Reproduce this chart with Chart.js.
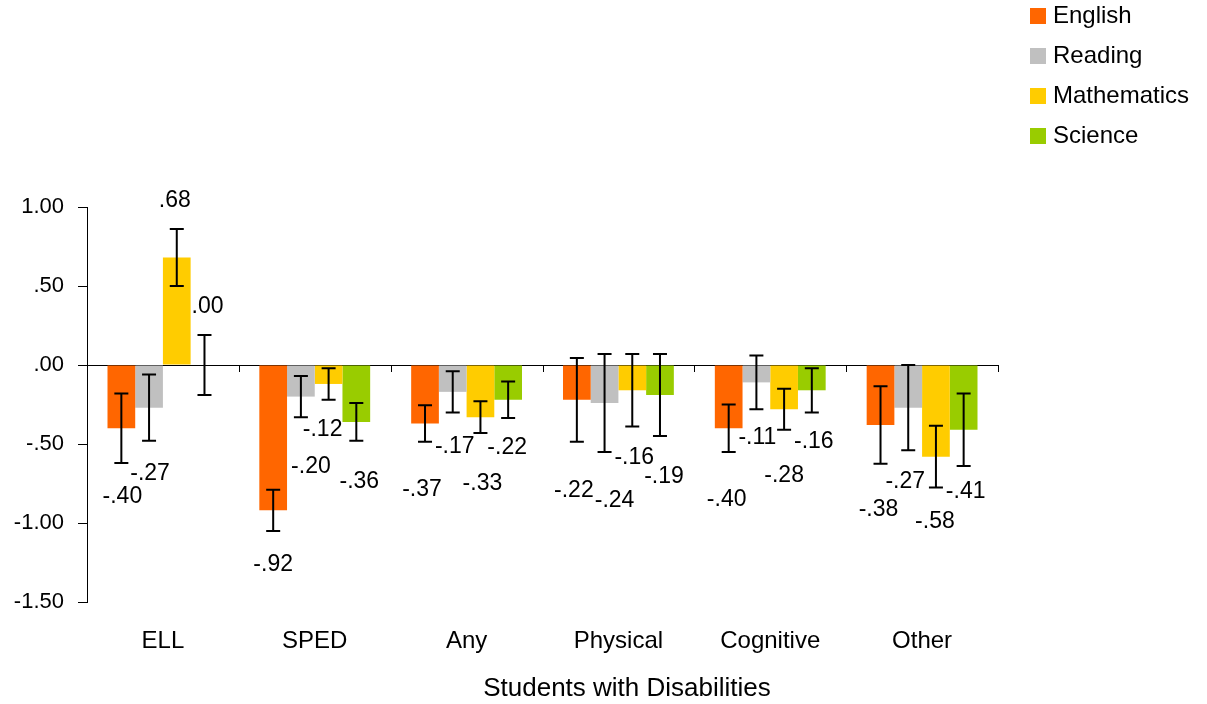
<!DOCTYPE html>
<html>
<head>
<meta charset="utf-8">
<script src="https://cdn.jsdelivr.net/npm/chart.js@4"></script>
<style>
html,body{margin:0;padding:0;background:#fff;}
#wrap{width:1207px;height:704px;position:relative;}
</style>
</head>
<body>
<div id="wrap"><canvas id="c" width="1207" height="704"></canvas></div>
<script>
// ---- data ----
const categories = ['ELL', 'SPED', 'Any', 'Physical', 'Cognitive', 'Other'];
const seriesNames = ['English', 'Reading', 'Mathematics', 'Science'];
const english     = [-0.40, -0.92, -0.37, -0.22, -0.40, -0.38];
const reading     = [-0.27, -0.20, -0.17, -0.24, -0.11, -0.27];
const mathematics = [ 0.68, -0.12, -0.33, -0.16, -0.28, -0.58];
const science     = [ 0.00, -0.36, -0.22, -0.19, -0.16, -0.41];
// error bar half-widths
const englishErr     = [0.22, 0.13, 0.115, 0.265, 0.15, 0.245];
const readingErr     = [0.21, 0.13, 0.13, 0.31, 0.17, 0.27];
const mathematicsErr = [0.18, 0.10, 0.10, 0.23, 0.13, 0.195];
const scienceErr     = [0.19, 0.12, 0.115, 0.26, 0.14, 0.23];
const yTicks = [-1.5, -1.0, -0.5, 0.0, 0.5, 1.0];
const xTitle = 'Students with Disabilities';

// ---- style ----
const colors = ['#FF6600', '#C0C0C0', '#FFCC00', '#99CC00'];
const FONT = 'Arial, "Liberation Sans", sans-serif';
// label nudges (pixels): [dx, dy] from the error bar end
const labelNudge = [
  [[1,34],[0,34],[-3,48],[-3,49],[-2,48],[-2,46]],
  [[1,33],[10,50],[2,34],[10,49],[1,28],[-3,31]],
  [[-2,-28],[-6,30],[2,51],[2,31],[0,46],[-1,34]],
  [[3,-28],[3,41],[-1,30],[4,41],[2,29],[2,26]]
];

function fmt(v){
  let s = Math.abs(v).toFixed(2);
  if (s.startsWith('0')) s = s.slice(1);
  return (v < 0 ? '-' : '') + s;
}

const dataArrays = [english, reading, mathematics, science];
const errArrays = [englishErr, readingErr, mathematicsErr, scienceErr];

const extrasPlugin = {
  id: 'extras',
  afterDatasetsDraw(chart){
    const ctx = chart.ctx;
    const y = chart.scales.y, x = chart.scales.x;
    const ca = chart.chartArea;
    ctx.save();
    // category tick marks on zero line
    const y0 = y.getPixelForValue(0);
    ctx.strokeStyle = '#000'; ctx.lineWidth = 1;
    const n = categories.length;
    for (let i = 1; i <= n; i++){
      const px = (i === n) ? ca.right : (x.getPixelForValue(i-1) + x.getPixelForValue(i)) / 2;
      ctx.beginPath(); ctx.moveTo(Math.round(px)+0.5, y0); ctx.lineTo(Math.round(px)+0.5, y0+7); ctx.stroke();
    }
    // error bars
    ctx.lineWidth = 2;
    chart.data.datasets.forEach((ds, di) => {
      const meta = chart.getDatasetMeta(di);
      meta.data.forEach((bar, i) => {
        const v = dataArrays[di][i], e = errArrays[di][i];
        const cx = bar.x;
        const yt = y.getPixelForValue(v + e), yb = y.getPixelForValue(v - e);
        ctx.beginPath();
        ctx.moveTo(cx, yt); ctx.lineTo(cx, yb);
        ctx.moveTo(cx-7, yt); ctx.lineTo(cx+7, yt);
        ctx.moveTo(cx-7, yb); ctx.lineTo(cx+7, yb);
        ctx.stroke();
      });
    });
    // data labels
    ctx.fillStyle = '#000';
    ctx.font = '23px ' + FONT;
    ctx.textAlign = 'center'; ctx.textBaseline = 'middle';
    chart.data.datasets.forEach((ds, di) => {
      const meta = chart.getDatasetMeta(di);
      meta.data.forEach((bar, i) => {
        const v = dataArrays[di][i], e = errArrays[di][i];
        const nd = labelNudge[di][i];
        const anchor = nd[1] < 0 ? y.getPixelForValue(v + e) : y.getPixelForValue(v - e);
        ctx.fillText(fmt(v), bar.x + nd[0], anchor + nd[1]);
      });
    });
    // axis title
    ctx.font = '26px ' + FONT;
    ctx.fillText(xTitle, 627, 689);
    // legend
    ctx.font = '24px ' + FONT;
    ctx.textAlign = 'left';
    seriesNames.forEach((name, k) => {
      const ly = 16 + k * 40;
      ctx.fillStyle = colors[k];
      ctx.fillRect(1030, ly - 8, 16, 16);
      ctx.fillStyle = '#000';
      ctx.fillText(name, 1053, ly);
    });
    ctx.restore();
  }
};

new Chart(document.getElementById('c'), {
  type: 'bar',
  data: {
    labels: categories,
    datasets: seriesNames.map((name, k) => ({
      label: name,
      data: dataArrays[k],
      backgroundColor: colors[k],
      borderWidth: 0,
      barPercentage: 1.0,
      categoryPercentage: 0.73
    }))
  },
  options: {
    responsive: false,
    animation: false,
    devicePixelRatio: 1,
    layout: { padding: { top: 207, right: 209, left: 0, bottom: 0 } },
    plugins: { legend: { display: false }, tooltip: { enabled: false } },
    scales: {
      x: {
        grid: { display: false },
        border: { display: false },
        ticks: { color: '#000', font: { family: FONT, size: 24 }, padding: 17, maxRotation: 0 },
        afterFit(s){ s.height = 102; }
      },
      y: {
        min: -1.5, max: 1.0,
        afterBuildTicks(s){ s.ticks = yTicks.map(v => ({ value: v })); },
        ticks: {
          color: '#000', font: { family: FONT, size: 22 }, padding: 14,
          callback: (v) => fmt(v)
        },
        grid: {
          color: (c) => (c.tick && c.tick.value === 0) ? '#000' : 'rgba(0,0,0,0)',
          tickColor: '#000', tickLength: 9, lineWidth: 1
        },
        border: { display: true, color: '#000', width: 1 },
        afterFit(s){ s.width = 87; }
      }
    }
  },
  plugins: [extrasPlugin]
});
</script>
</body>
</html>
